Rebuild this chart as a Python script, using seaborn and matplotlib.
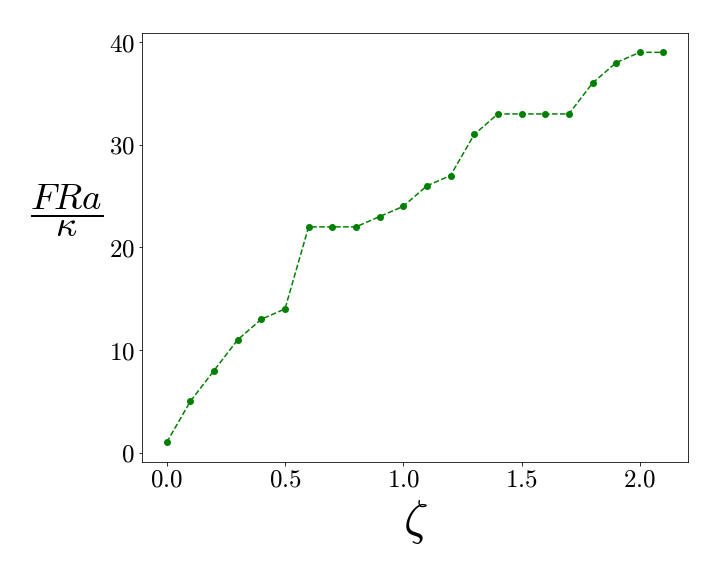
import numpy as np
import pandas as pd
import matplotlib
matplotlib.use("Agg")
import matplotlib.pyplot as plt
from matplotlib.ticker import FuncFormatter, MultipleLocator
import seaborn as sns

# data
zeta = [0.0, 0.1, 0.2, 0.3, 0.4, 0.5, 0.6, 0.7, 0.8, 0.9, 1.0,
        1.1, 1.2, 1.3, 1.4, 1.5, 1.6, 1.7, 1.8, 1.9, 2.0, 2.1]
fra = [1, 5, 8, 11, 13, 14, 22, 22, 22, 23, 24,
       26, 27, 31, 33, 33, 33, 33, 36, 38, 39, 39]

sns.set_style("ticks")
plt.rcParams['mathtext.fontset'] = 'cm'
plt.rcParams['font.family'] = ['serif']
plt.rcParams['font.serif'] = ['DejaVu Serif']
for k in ['text.color', 'axes.labelcolor', 'xtick.color', 'ytick.color', 'axes.edgecolor']:
    plt.rcParams[k] = 'black'

df = pd.DataFrame({'zeta': zeta, 'fra': fra})

fig = plt.figure(figsize=(10, 8), dpi=72)
ax = fig.add_axes([0.197, 0.198, 0.759, 0.745])
sns.lineplot(data=df, x='zeta', y='fra', ax=ax, color='green',
             linestyle='--', marker='o', markersize=7, markeredgewidth=0,
             linewidth=1.5)

ax.xaxis.set_major_locator(MultipleLocator(0.5))
ax.yaxis.set_major_locator(MultipleLocator(10))
ax.xaxis.set_major_formatter(FuncFormatter(lambda v, p: f"${v:.1f}$"))
ax.yaxis.set_major_formatter(FuncFormatter(lambda v, p: f"${v:.0f}$"))
ax.tick_params(labelsize=25)
ax.set_xlim(-0.105, 2.205)
ax.set_ylim(-0.9, 40.9)

ax.set_xlabel(r'$\zeta$', fontsize=48, labelpad=6)
ax.set_ylabel(r'$\dfrac{FRa}{\kappa}$', fontsize=37, rotation=0,
              va='center', ha='center')
ax.yaxis.set_label_coords(-0.137, 0.585)

fig.savefig('out.png', dpi=72)
